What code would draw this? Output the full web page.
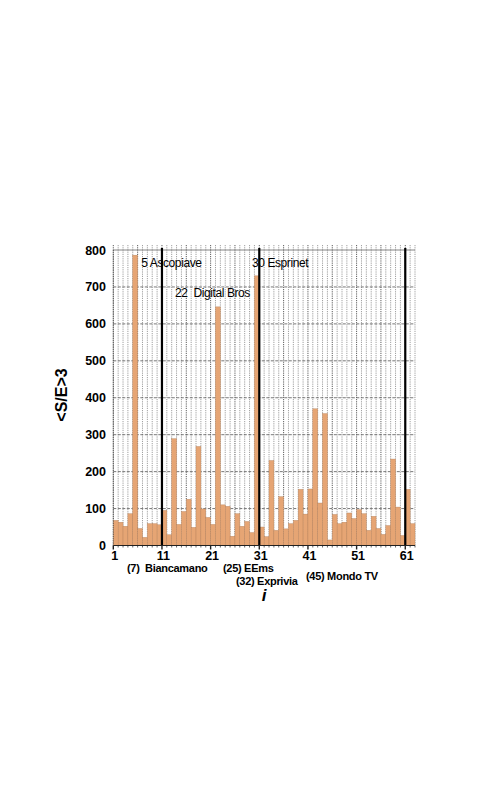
<!DOCTYPE html>
<html>
<head>
<meta charset="utf-8">
<script src="https://cdn.jsdelivr.net/npm/d3@7"></script>
<style>
  body { margin: 0; background: #fff; }
  text { font-family: "Liberation Sans", Arial, sans-serif; white-space: pre; }
</style>
</head>
<body>
<div id="chart"></div>
<script>
// <S/E>3 per company index i (1..62)
const indices = d3.range(1, 63);
const values = [
  68, 63, 52, 86, 786, 46, 22, 59, 59, 56,
  95, 29, 289, 57, 92, 125, 49, 268, 99, 76,
  57, 646, 110, 106, 25, 86, 52, 65, 35, 730,
  50, 24, 230, 41, 132, 45, 59, 68, 152, 85,
  153, 370, 115, 357, 15, 84, 59, 63, 88, 73,
  97, 86, 41, 79, 46, 30, 54, 234, 104, 27,
  152, 59
];
const yTicks = [0, 100, 200, 300, 400, 500, 600, 700, 800];
const xTicks = [1, 11, 21, 31, 41, 51, 61];
const dividers = [11, 31, 61];

const topNotes = [
  { i: 5, text: "5 Ascopiave", row: 0 },
  { i: 22, text: "22  Digital Bros", row: 1 },
  { i: 30, text: "30 Esprinet", row: 0 }
];
const bottomNotes = [
  { text: "(7)  Biancamano", x: 127, y: 572 },
  { text: "(25) EEms", x: 223, y: 572 },
  { text: "(32) Exprivia", x: 236, y: 585 },
  { text: "(45) Mondo TV", x: 306, y: 580 }
];

const width = 498;
const height = 789;
const margin = { left: 113.3, right: 83, top: 250, bottom: 243.5 };

const svg = d3
  .select("#chart")
  .append("svg")
  .attr("width", width)
  .attr("height", height);

const x = d3
  .scaleBand()
  .domain(indices)
  .range([margin.left, width - margin.right])
  .padding(0);

const y = d3
  .scaleLinear()
  .domain([0, 800])
  .range([height - margin.bottom, margin.top]);

const left = (i) => x(i);
const plotRight = width - margin.right;

// vertical dotted grid at each bar boundary
const bounds = d3.range(1, 64);
svg
  .append("g")
  .selectAll("line")
  .data(bounds)
  .enter()
  .append("line")
  .attr("x1", (d) => (d <= 62 ? x(d) : plotRight))
  .attr("x2", (d) => (d <= 62 ? x(d) : plotRight))
  .attr("y1", y(800) - 5)
  .attr("y2", y(0))
  .attr("stroke", (d) => ((d - 1) % 5 === 0 ? "#333" : "#888"))
  .attr("stroke-width", 0.8)
  .attr("stroke-dasharray", "1.2,1");

// horizontal grid
svg
  .append("g")
  .selectAll("line")
  .data(yTicks.slice(1))
  .enter()
  .append("line")
  .attr("x1", margin.left)
  .attr("x2", plotRight)
  .attr("y1", (d) => y(d))
  .attr("y2", (d) => y(d))
  .attr("stroke", (d) => (d === 800 ? "#666" : "#555"))
  .attr("stroke-width", 0.8)
  .attr("stroke-dasharray", (d) => (d === 800 ? null : "3,1.5"));

// bars
svg
  .append("g")
  .selectAll("rect")
  .data(values)
  .enter()
  .append("rect")
  .attr("x", (d, k) => x(indices[k]))
  .attr("y", (d) => y(d))
  .attr("width", x.bandwidth())
  .attr("height", (d) => y(0) - y(d))
  .attr("fill", "#e6a574")
  .attr("stroke", "#b5815a")
  .attr("stroke-width", 0.4);

// thick dividers
svg
  .append("g")
  .selectAll("line")
  .data(dividers)
  .enter()
  .append("line")
  .attr("x1", (d) => left(d))
  .attr("x2", (d) => left(d))
  .attr("y1", y(800) - 2)
  .attr("y2", y(0))
  .attr("stroke", "#000")
  .attr("stroke-width", 2.2);

// axes lines
svg
  .append("line")
  .attr("x1", margin.left)
  .attr("x2", margin.left)
  .attr("y1", y(800))
  .attr("y2", y(0))
  .attr("stroke", "#444")
  .attr("stroke-width", 0.8)
  .attr("stroke-dasharray", "1.2,1");

svg
  .append("line")
  .attr("x1", margin.left)
  .attr("x2", plotRight)
  .attr("y1", y(0))
  .attr("y2", y(0))
  .attr("stroke", "#222")
  .attr("stroke-width", 1);

// bottom ruler ticks
svg
  .append("g")
  .selectAll("line")
  .data(bounds)
  .enter()
  .append("line")
  .attr("x1", (d) => (d <= 62 ? x(d) : plotRight))
  .attr("x2", (d) => (d <= 62 ? x(d) : plotRight))
  .attr("y1", y(0))
  .attr("y2", (d) => y(0) + (xTicks.includes(d) ? 4 : 2))
  .attr("stroke", "#222")
  .attr("stroke-width", (d) => (xTicks.includes(d) ? 1.4 : 0.7));

// y tick labels
svg
  .append("g")
  .selectAll("text")
  .data(yTicks)
  .enter()
  .append("text")
  .attr("x", 106)
  .attr("y", (d) => y(d) + 4.5)
  .attr("text-anchor", "end")
  .style("font-size", "12.5px")
  .style("font-weight", 700)
  .text((d) => d);

// x tick labels
svg
  .append("g")
  .selectAll("text")
  .data(xTicks)
  .enter()
  .append("text")
  .attr("x", (d) => left(d) + 1.5)
  .attr("y", 559.5)
  .attr("text-anchor", "middle")
  .style("font-size", "12.5px")
  .style("font-weight", 700)
  .text((d) => d);

// axis titles
svg
  .append("text")
  .attr("transform", "translate(67, 395) rotate(-90)")
  .attr("text-anchor", "middle")
  .style("font-size", "16px")
  .style("font-weight", 700)
  .text("<S/E>3");

svg
  .append("text")
  .attr("x", 264)
  .attr("y", 601)
  .attr("text-anchor", "middle")
  .style("font-size", "17px")
  .style("font-weight", 700)
  .style("font-style", "italic")
  .text("i");

// company annotations
svg
  .append("g")
  .selectAll("text")
  .data(topNotes)
  .enter()
  .append("text")
  .attr("x", (d) => (d.i === 22 ? 175 : left(d.i) + (d.i === 30 ? -2.5 : 8.5)))
  .attr("y", (d) => (d.row === 0 ? 267 : 297))
  .style("font-size", "12px")
  .style("letter-spacing", "-0.4px")
  .text((d) => d.text);

svg
  .append("g")
  .selectAll("text")
  .data(bottomNotes)
  .enter()
  .append("text")
  .attr("x", (d) => d.x)
  .attr("y", (d) => d.y)
  .style("font-size", "11px")
  .style("font-weight", 700)
  .style("letter-spacing", "-0.3px")
  .text((d) => d.text);
</script>
</body>
</html>
